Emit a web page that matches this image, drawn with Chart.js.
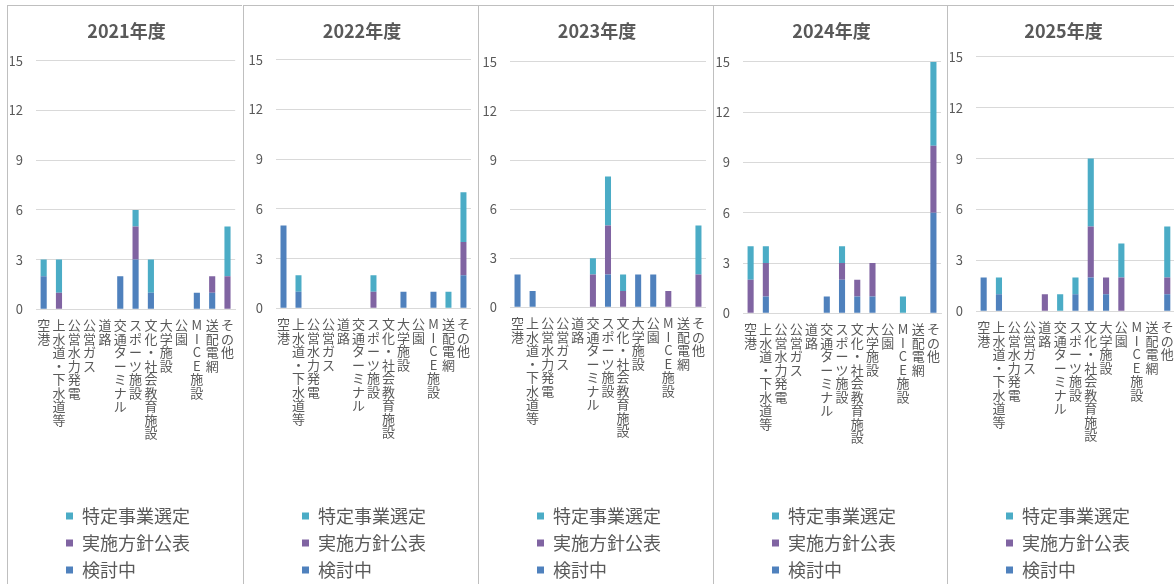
<!DOCTYPE html>
<html>
<head>
<meta charset="utf-8">
<script src="https://cdn.jsdelivr.net/npm/chart.js@4.4.1/dist/chart.umd.min.js"></script>
<style>
    body {
        margin: 0;
        background: #ffffff;
        width: 1174px;
        height: 584px;
        overflow: hidden;
        position: relative;
    }
    .panel {
        position: absolute;
        top: 5px;
        width: 235px;
        height: 585px;
        border-left: 1px solid #bfbfbf;
        border-top: 1px solid #bfbfbf;
        box-sizing: border-box;
    }
    .panel canvas {
        position: absolute;
        left: 0;
        top: 0;
    }
</style>
</head>
<body>

<div class="panel" style="left:7px"><canvas id="c0" width="235" height="585"></canvas></div>
<div class="panel" style="left:243px"><canvas id="c1" width="235" height="585"></canvas></div>
<div class="panel" style="left:478px"><canvas id="c2" width="235" height="585"></canvas></div>
<div class="panel" style="left:713px"><canvas id="c3" width="235" height="585"></canvas></div>
<div class="panel" style="left:947px"><canvas id="c4" width="235" height="585"></canvas></div>

<script>
    // カテゴリと年度
    const categories = ["空港", "上水道・下水道等", "公営水力発電", "公営ガス", "道路", "交通ターミナル",
        "スポーツ施設", "文化・社会教育施設", "大学施設", "公園", "MICE施設", "送配電網", "その他"];
    const years = ["2021年度", "2022年度", "2023年度", "2024年度", "2025年度"];
    const seriesNames = ["検討中", "実施方針公表", "特定事業選定"];
    const yTicks = [0, 3, 6, 9, 12, 15];

    // 検討中
    const kentou = [
        [2, 0, 0, 0, 0, 2, 3, 1, 0, 0, 1, 1, 0],
        [5, 1, 0, 0, 0, 0, 0, 0, 1, 0, 1, 0, 2],
        [2, 1, 0, 0, 0, 0, 2, 0, 2, 2, 0, 0, 0],
        [0, 1, 0, 0, 0, 1, 2, 1, 1, 0, 0, 0, 6],
        [2, 1, 0, 0, 0, 0, 1, 2, 1, 0, 0, 0, 1]
    ];
    // 実施方針公表
    const jisshi = [
        [0, 1, 0, 0, 0, 0, 2, 0, 0, 0, 0, 1, 2],
        [0, 0, 0, 0, 0, 0, 1, 0, 0, 0, 0, 0, 2],
        [0, 0, 0, 0, 0, 2, 3, 1, 0, 0, 1, 0, 2],
        [2, 2, 0, 0, 0, 0, 1, 1, 2, 0, 0, 0, 4],
        [0, 0, 0, 0, 1, 0, 0, 3, 1, 2, 0, 0, 1]
    ];
    // 特定事業選定
    const tokutei = [
        [1, 2, 0, 0, 0, 0, 1, 2, 0, 0, 0, 0, 3],
        [0, 1, 0, 0, 0, 0, 1, 0, 0, 0, 0, 1, 3],
        [0, 0, 0, 0, 0, 1, 3, 1, 0, 0, 0, 0, 3],
        [2, 1, 0, 0, 0, 0, 1, 0, 0, 0, 1, 0, 5],
        [0, 1, 0, 0, 0, 1, 1, 4, 0, 2, 0, 0, 3]
    ];

    const colors = ["#4f81bd", "#8064a2", "#4bacc6"];
    const FONT = "'Noto Sans CJK JP', 'Noto Sans', sans-serif";
    const GRAY = "#595959";

    // パネルごとの微調整（プロット領域の位置）
    const padTitle = [19.6, 18.6, 20.6, 20.6, 15.6];
    const padBottom = [78, 79, 80, 74, 76];
    const yAxisW = [26, 30, 29, 27, 26];
    const padRight = [0, 1, 1, 2, 6];

    // 凡例を縦一列に並べる
    const legendPlace = {
        id: "legendPlace",
        afterLayout(chart) {
            const lg = chart.legend;
            lg.left = 49;
            lg.right = 200;
            lg.top = 492;
            lg.bottom = 585;
            lg.width = lg.right - lg.left;
            lg.height = lg.bottom - lg.top;
        }
    };

    for (let p = 0; p < years.length; p++) {
        const values = [kentou[p], jisshi[p], tokutei[p]];
        new Chart("c" + p, {
            type: "bar",
            data: {
                labels: categories.map(s => Array.from(s)),
                datasets: seriesNames.map((name, i) => ({
                    label: name,
                    data: values[i],
                    backgroundColor: colors[i],
                    borderWidth: 0,
                    barPercentage: 0.5,
                    categoryPercentage: 0.8
                }))
            },
            options: {
                responsive: false,
                animation: false,
                layout: {
                    padding: {left: 2, right: padRight[p], top: 0, bottom: padBottom[p]}
                },
                scales: {
                    x: {
                        stacked: true,
                        grid: {display: false, drawTicks: false},
                        border: {color: "#d9d9d9", width: 1},
                        ticks: {
                            autoSkip: false,
                            maxRotation: 0,
                            minRotation: 0,
                            padding: 9,
                            color: GRAY,
                            font: {family: FONT, size: 13, lineHeight: 1.04}
                        }
                    },
                    y: {
                        stacked: true,
                        min: 0,
                        max: 15,
                        afterBuildTicks(axis) {
                            axis.ticks = yTicks.map(v => ({value: v}));
                        },
                        afterFit(axis) {
                            axis.width = yAxisW[p];
                        },
                        grid: {color: "#d9d9d9", lineWidth: 1, drawTicks: false},
                        border: {display: false},
                        ticks: {
                            padding: 13,
                            color: GRAY,
                            font: {family: FONT, size: 13}
                        }
                    }
                },
                plugins: {
                    title: {
                        display: true,
                        text: years[p],
                        color: GRAY,
                        font: {family: FONT, size: 18, weight: "bold", lineHeight: 1.2},
                        padding: {top: 14, bottom: padTitle[p] - 0.4}
                    },
                    legend: {
                        position: "bottom",
                        align: "start",
                        reverse: true,
                        labels: {
                            boxWidth: 7,
                            boxHeight: 7,
                            padding: 9,
                            color: GRAY,
                            font: {family: FONT, size: 18}
                        }
                    },
                    tooltip: {enabled: false}
                }
            },
            plugins: [legendPlace]
        });
    }
</script>
</body>
</html>
